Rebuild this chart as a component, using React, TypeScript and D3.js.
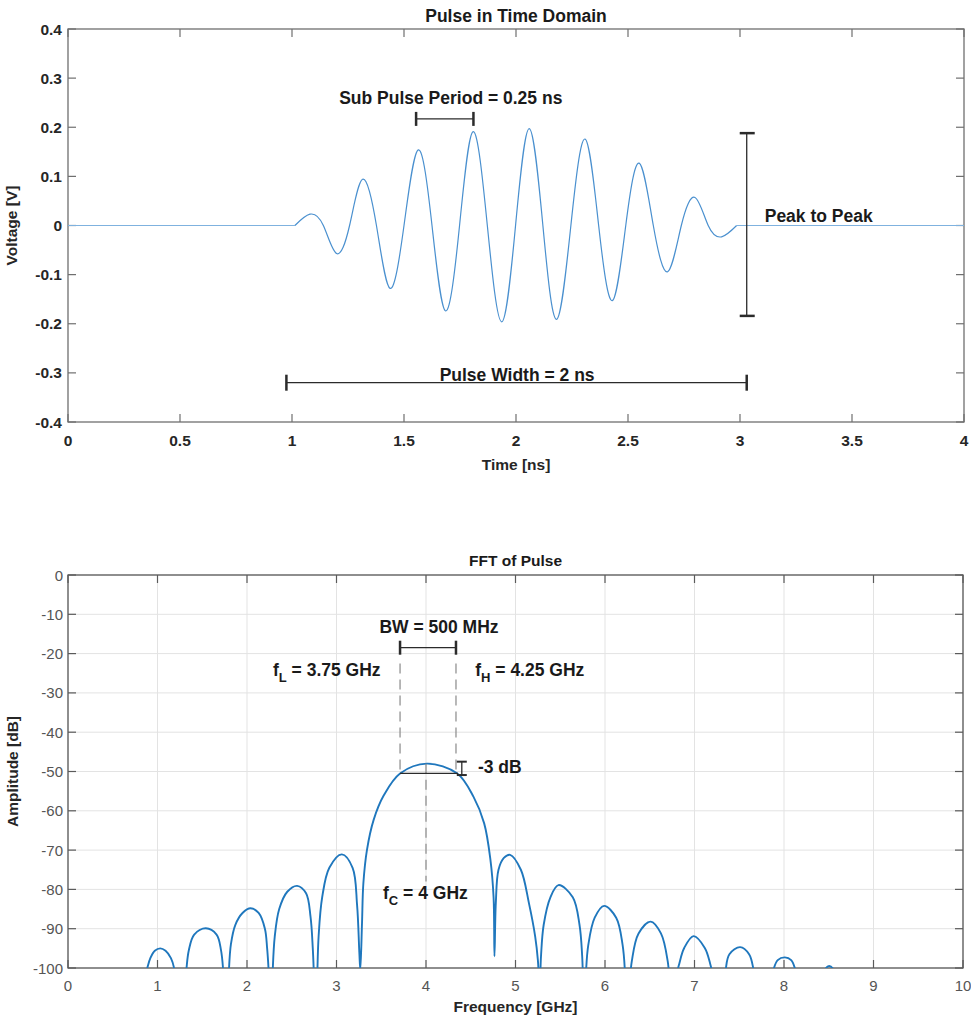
import React from "react";
import * as d3 from "d3";

// ---------- Data: pulse in time domain ----------
const timeNs = [0, 1.013, 1.08, 1.14, 1.199, 1.257, 1.315, 1.377, 1.438, 1.5, 1.564, 1.625, 1.686, 1.748, 1.809, 1.872, 1.936, 1.998, 2.059, 2.12, 2.181, 2.245, 2.308, 2.369, 2.43, 2.49, 2.55, 2.613, 2.677, 2.738, 2.799, 2.858, 2.918, 2.985, 4];
const voltageV = [0, 0, 0.023, 0, -0.057, 0, 0.094, 0, -0.128, 0, 0.154, 0, -0.174, 0, 0.191, 0, -0.196, 0, 0.197, 0, -0.191, 0, 0.176, 0, -0.153, 0, 0.127, 0, -0.094, 0, 0.057, 0, -0.023, 0, 0];

const timeTicks = [0, 0.5, 1, 1.5, 2, 2.5, 3, 3.5, 4];
const timeTickLabels = ["0", "0.5", "1", "1.5", "2", "2.5", "3", "3.5", "4"];
const voltTicks = [0.4, 0.3, 0.2, 0.1, 0, -0.1, -0.2, -0.3, -0.4];
const voltTickLabels = ["0.4", "0.3", "0.2", "0.1", "0", "-0.1", "-0.2", "-0.3", "-0.4"];

// ---------- Data: FFT magnitude ----------
const freqGHz = [
  0.7, 0.88, 0.92, 0.97, 1.03, 1.09, 1.15, 1.19,
  1.26, 1.32, 1.35, 1.41, 1.54, 1.66, 1.71, 1.735,
  1.77, 1.795, 1.82, 1.87, 1.95, 2.04, 2.13, 2.2, 2.225, 2.245,
  2.267, 2.285, 2.31, 2.36, 2.45, 2.56, 2.66, 2.71, 2.735, 2.748,
  2.765, 2.782, 2.8, 2.84, 2.92, 3.06, 3.18, 3.23, 3.255,
  3.266, 3.285, 3.3, 3.34, 3.415, 3.53, 3.71, 4.01, 4.35, 4.53, 4.65, 4.72, 4.755,
  4.765, 4.78, 4.81, 4.87, 4.94, 5.06, 5.15, 5.22, 5.25, 5.262,
  5.27, 5.285, 5.315, 5.39, 5.48, 5.64, 5.715, 5.745,
  5.767, 5.785, 5.813, 5.885, 5.99, 6.125, 6.197, 6.226,
  6.25, 6.27, 6.3, 6.375, 6.51, 6.625, 6.7, 6.73,
  6.75, 6.8, 6.83, 6.885, 6.99, 7.115, 7.175, 7.205,
  7.27, 7.345, 7.39, 7.51, 7.61, 7.665,
  7.77, 7.875, 7.93, 8.01, 8.08, 8.135,
  8.3, 8.44, 8.505, 8.57, 8.7
];
const amplitudeDb = [
  -115, -100.5, -97.5, -95.6, -95, -95.6, -97.5, -100.5,
  -115, -101, -95.5, -91.5, -89.9, -91.5, -95.5, -101,
  -115, -102, -94, -89, -86, -84.8, -86, -90, -95, -102,
  -115, -102, -92, -85, -80.6, -79.1, -81, -87, -95, -102,
  -112, -104, -92, -82, -74.5, -71.1, -74.5, -84, -96,
  -100.5, -88.6, -78.5, -70, -62.3, -56, -50.5, -48, -50.5, -56.4, -63.2, -72.5, -82,
  -97, -83.5, -75, -72, -71.2, -75, -83.5, -92, -98, -103,
  -106, -97, -89, -82, -78.9, -82, -89, -97,
  -112, -102.2, -94.2, -87.2, -84.2, -87.2, -94.2, -102.2,
  -115, -106, -98.2, -91.2, -88.2, -91.2, -98.2, -106,
  -115, -101.9, -98.9, -94.9, -91.9, -94.9, -98.9, -102,
  -115, -101, -96.5, -94.7, -96.5, -101,
  -115, -101, -98, -97.3, -98, -101,
  -115, -101, -99.5, -101, -115
];

const freqTicks = [0, 1, 2, 3, 4, 5, 6, 7, 8, 9, 10];
const dbTicks = [0, -10, -20, -30, -40, -50, -60, -70, -80, -90, -100];

// ---------- Annotation anchors (data units) ----------
const subPulse = { t0: 1.554, t1: 1.81, v: 0.217 };
const peakToPeak = { t: 3.03, vTop: 0.188, vBot: -0.184 };
const pulseWidth = { t0: 0.975, t1: 3.03, v: -0.32 };
const bwBar = { f0: 3.71, f1: 4.335, db: -18.5 };
const halfPower = { db: -50.5, peakDb: -47.5 };
const fCenter = 4.0;

const FONT = "'Liberation Sans', Arial, Helvetica, sans-serif";

export default function App() {
  // scales
  const xT = d3.scaleLinear().domain([0, 4]).range([68, 964]);
  const yT = d3.scaleLinear().domain([-0.4, 0.4]).range([422, 29]);
  const xB = d3.scaleLinear().domain([0, 10]).range([68, 963]);
  const yB = d3.scaleLinear().domain([-100, 0]).range([968, 575]);

  const pulsePts = timeNs.map((t, i) => [t, voltageV[i]] as [number, number]);
  const startIdx = 1;
  const endIdx = pulsePts.length - 2;
  const lineT = d3
    .line<[number, number]>()
    .x((d) => xT(d[0]))
    .y((d) => yT(d[1]));
  const pulseBody = lineT.curve(d3.curveNatural)(pulsePts.slice(startIdx, endIdx + 1)) || "";
  const flatLeft = d3.line<[number, number]>().x((d) => xT(d[0])).y((d) => yT(d[1]))(pulsePts.slice(0, startIdx + 1)) || "";
  const flatRight = d3.line<[number, number]>().x((d) => xT(d[0])).y((d) => yT(d[1]))(pulsePts.slice(endIdx)) || "";

  const fftPts = freqGHz.map((f, i) => [f, amplitudeDb[i]] as [number, number]);
  const fftPath =
    d3
      .line<[number, number]>()
      .x((d) => xB(d[0]))
      .y((d) => yB(d[1]))
      .curve(d3.curveCatmullRom.alpha(0.5))(fftPts) || "";

  const axisColor = "#6f6f6f";
  const tickLen = 8;
  const [tx0, tx1] = xT.range();
  const [ty0, ty1] = yT.range(); // bottom, top
  const [bx0, bx1] = xB.range();
  const [by0, by1] = yB.range();

  const annot = { fontFamily: FONT, fontWeight: 700, fontSize: 17.5, fill: "#1a1a1a" } as const;
  const dark = "#2b2b2b";

  return (
    <svg
      width={971}
      height={1019}
      style={{ position: "absolute", left: 0, top: 0, background: "#fff" }}
      fontFamily={FONT}
    >
      <defs>
        <clipPath id="clipTop">
          <rect x={tx0} y={ty1} width={tx1 - tx0} height={ty0 - ty1} />
        </clipPath>
        <clipPath id="clipBot">
          <rect x={bx0} y={by1} width={bx1 - bx0} height={by0 - by1} />
        </clipPath>
      </defs>

      {/* ================= TOP CHART ================= */}
      <text x={(tx0 + tx1) / 2} y={21.5} textAnchor="middle" fontWeight={700} fontSize={17.5} fill="#1a1a1a">
        Pulse in Time Domain
      </text>
      <rect x={tx0} y={ty1} width={tx1 - tx0} height={ty0 - ty1} fill="#fff" stroke={axisColor} strokeWidth={1.3} />
      {timeTicks.map((t, i) => (
        <g key={"tt" + i}>
          <line x1={xT(t)} x2={xT(t)} y1={ty0} y2={ty0 - tickLen} stroke={axisColor} strokeWidth={1.2} />
          <line x1={xT(t)} x2={xT(t)} y1={ty1} y2={ty1 + tickLen} stroke={axisColor} strokeWidth={1.2} />
          <text x={xT(t)} y={ty0 + 24} textAnchor="middle" fontWeight={700} fontSize={15.5} fill="#262626">
            {timeTickLabels[i]}
          </text>
        </g>
      ))}
      {voltTicks.map((v, i) => (
        <g key={"vt" + i}>
          <line x1={tx0} x2={tx0 + tickLen} y1={yT(v)} y2={yT(v)} stroke={axisColor} strokeWidth={1.2} />
          <line x1={tx1} x2={tx1 - tickLen} y1={yT(v)} y2={yT(v)} stroke={axisColor} strokeWidth={1.2} />
          <text x={tx0 - 6} y={yT(v) + 5.5} textAnchor="end" fontWeight={700} fontSize={15.5} fill="#262626">
            {voltTickLabels[i]}
          </text>
        </g>
      ))}
      <text x={(tx0 + tx1) / 2} y={470} textAnchor="middle" fontWeight={700} fontSize={15.5} fill="#262626">
        Time [ns]
      </text>
      <text
        transform={`translate(17, ${(ty0 + ty1) / 2}) rotate(-90)`}
        textAnchor="middle"
        fontWeight={700}
        fontSize={15.5}
        fill="#262626"
      >
        Voltage [V]
      </text>

      <g clipPath="url(#clipTop)" fill="none" stroke="#4a90cf" strokeWidth={1.2}>
        <path d={flatLeft} stroke="#7fb2df" />
        <path d={pulseBody} />
        <path d={flatRight} stroke="#7fb2df" />
      </g>

      {/* sub pulse period */}
      <text x={(xT(subPulse.t0) + xT(subPulse.t1)) / 2 + 6} y={yT(subPulse.v) - 15} textAnchor="middle" {...annot}>
        Sub Pulse Period = 0.25 ns
      </text>
      <g stroke={dark}>
        <line x1={xT(subPulse.t0)} x2={xT(subPulse.t1)} y1={yT(subPulse.v)} y2={yT(subPulse.v)} strokeWidth={1.3} />
        <line x1={xT(subPulse.t0)} x2={xT(subPulse.t0)} y1={yT(subPulse.v) - 7} y2={yT(subPulse.v) + 7} strokeWidth={2.5} />
        <line x1={xT(subPulse.t1)} x2={xT(subPulse.t1)} y1={yT(subPulse.v) - 7} y2={yT(subPulse.v) + 7} strokeWidth={2.5} />
      </g>

      {/* peak to peak */}
      <g stroke={dark}>
        <line x1={xT(peakToPeak.t)} x2={xT(peakToPeak.t)} y1={yT(peakToPeak.vTop)} y2={yT(peakToPeak.vBot)} strokeWidth={1.3} />
        <line x1={xT(peakToPeak.t) - 7} x2={xT(peakToPeak.t) + 8} y1={yT(peakToPeak.vTop)} y2={yT(peakToPeak.vTop)} strokeWidth={2.5} />
        <line x1={xT(peakToPeak.t) - 7} x2={xT(peakToPeak.t) + 8} y1={yT(peakToPeak.vBot)} y2={yT(peakToPeak.vBot)} strokeWidth={2.5} />
      </g>
      <text x={xT(peakToPeak.t) + 18} y={yT(0) - 4} {...annot}>
        Peak to Peak
      </text>

      {/* pulse width */}
      <g stroke={dark}>
        <line x1={xT(pulseWidth.t0)} x2={xT(pulseWidth.t1)} y1={yT(pulseWidth.v)} y2={yT(pulseWidth.v)} strokeWidth={1.3} />
        <line x1={xT(pulseWidth.t0)} x2={xT(pulseWidth.t0)} y1={yT(pulseWidth.v) - 8} y2={yT(pulseWidth.v) + 8} strokeWidth={2.5} />
        <line x1={xT(pulseWidth.t1)} x2={xT(pulseWidth.t1)} y1={yT(pulseWidth.v) - 8} y2={yT(pulseWidth.v) + 8} strokeWidth={2.5} />
      </g>
      <text x={xT(2.005)} y={yT(pulseWidth.v) - 2} textAnchor="middle" {...annot}>
        Pulse Width = 2 ns
      </text>

      {/* ================= BOTTOM CHART ================= */}
      <text x={(bx0 + bx1) / 2} y={566} textAnchor="middle" fontWeight={700} fontSize={15.5} fill="#1a1a1a">
        FFT of Pulse
      </text>
      <rect x={bx0} y={by1} width={bx1 - bx0} height={by0 - by1} fill="#fff" />
      {freqTicks.map((f, i) => (
        <line key={"gx" + i} x1={xB(f)} x2={xB(f)} y1={by1} y2={by0} stroke="#e3e3e3" strokeWidth={1} />
      ))}
      {dbTicks.map((v, i) => (
        <line key={"gy" + i} x1={bx0} x2={bx1} y1={yB(v)} y2={yB(v)} stroke="#e3e3e3" strokeWidth={1} />
      ))}
      <rect x={bx0} y={by1} width={bx1 - bx0} height={by0 - by1} fill="none" stroke="#5a5a5a" strokeWidth={1.3} />
      {freqTicks.map((f, i) => (
        <g key={"ft" + i}>
          <line x1={xB(f)} x2={xB(f)} y1={by0} y2={by0 - tickLen} stroke="#5a5a5a" strokeWidth={1.2} />
          <line x1={xB(f)} x2={xB(f)} y1={by1} y2={by1 + tickLen} stroke="#5a5a5a" strokeWidth={1.2} />
          <text x={xB(f)} y={by0 + 23} textAnchor="middle" fontSize={15} fill="#555">
            {String(f)}
          </text>
        </g>
      ))}
      {dbTicks.map((v, i) => (
        <g key={"dt" + i}>
          <line x1={bx0} x2={bx0 + tickLen} y1={yB(v)} y2={yB(v)} stroke="#5a5a5a" strokeWidth={1.2} />
          <line x1={bx1} x2={bx1 - tickLen} y1={yB(v)} y2={yB(v)} stroke="#5a5a5a" strokeWidth={1.2} />
          <text x={bx0 - 5} y={yB(v) + 5.5} textAnchor="end" fontSize={15} fill="#555">
            {String(v)}
          </text>
        </g>
      ))}
      <text x={(bx0 + bx1) / 2} y={1012} textAnchor="middle" fontWeight={700} fontSize={15.5} fill="#262626">
        Frequency [GHz]
      </text>
      <text
        transform={`translate(18, ${(by0 + by1) / 2}) rotate(-90)`}
        textAnchor="middle"
        fontWeight={700}
        fontSize={15.5}
        fill="#262626"
      >
        Amplitude [dB]
      </text>

      <path d={fftPath} clipPath="url(#clipBot)" fill="none" stroke="#1f77bd" strokeWidth={1.9} />

      {/* dashed guides */}
      <g stroke="#8a8a8a" strokeWidth={1.2} strokeDasharray="10,6" fill="none">
        <line x1={xB(bwBar.f0)} x2={xB(bwBar.f0)} y1={yB(-22.5)} y2={yB(halfPower.db)} />
        <line x1={xB(bwBar.f1)} x2={xB(bwBar.f1)} y1={yB(-22.5)} y2={yB(halfPower.db)} />
        <line x1={xB(fCenter)} x2={xB(fCenter)} y1={yB(-48)} y2={yB(-78)} />
      </g>
      {/* BW bar */}
      <g stroke={dark}>
        <line x1={xB(bwBar.f0)} x2={xB(bwBar.f1)} y1={yB(bwBar.db)} y2={yB(bwBar.db)} strokeWidth={1.3} />
        <line x1={xB(bwBar.f0)} x2={xB(bwBar.f0)} y1={yB(bwBar.db) - 7} y2={yB(bwBar.db) + 7} strokeWidth={2.5} />
        <line x1={xB(bwBar.f1)} x2={xB(bwBar.f1)} y1={yB(bwBar.db) - 7} y2={yB(bwBar.db) + 7} strokeWidth={2.5} />
      </g>
      <text x={xB(4.145)} y={yB(-14.8)} textAnchor="middle" {...annot}>
        BW = 500 MHz
      </text>
      <text x={xB(2.29)} y={yB(-25.6)} {...annot}>
        f<tspan fontSize={13} dy={6}>L</tspan>
        <tspan dy={-6}> = 3.75 GHz</tspan>
      </text>
      <text x={xB(4.55)} y={yB(-25.6)} {...annot}>
        f<tspan fontSize={13} dy={6}>H</tspan>
        <tspan dy={-6}> = 4.25 GHz</tspan>
      </text>
      {/* -3 dB line and marker */}
      <line x1={xB(bwBar.f0)} x2={xB(bwBar.f1) + 2} y1={yB(halfPower.db)} y2={yB(halfPower.db)} stroke={dark} strokeWidth={1.3} />
      <g stroke={dark}>
        <line x1={xB(4.4)} x2={xB(4.4)} y1={yB(halfPower.peakDb)} y2={yB(halfPower.db - 0.4)} strokeWidth={1.3} />
        <line x1={xB(4.4) - 5} x2={xB(4.4) + 5} y1={yB(halfPower.peakDb)} y2={yB(halfPower.peakDb)} strokeWidth={2} />
        <line x1={xB(4.4) - 5} x2={xB(4.4) + 5} y1={yB(halfPower.db - 0.4)} y2={yB(halfPower.db - 0.4)} strokeWidth={2} />
      </g>
      <text x={xB(4.58)} y={yB(-50.5)} {...annot}>
        -3 dB
      </text>
      <text x={xB(3.52)} y={yB(-82.5)} {...annot}>
        f<tspan fontSize={13} dy={6}>C</tspan>
        <tspan dy={-6}> = 4 GHz</tspan>
      </text>
    </svg>
  );
}
